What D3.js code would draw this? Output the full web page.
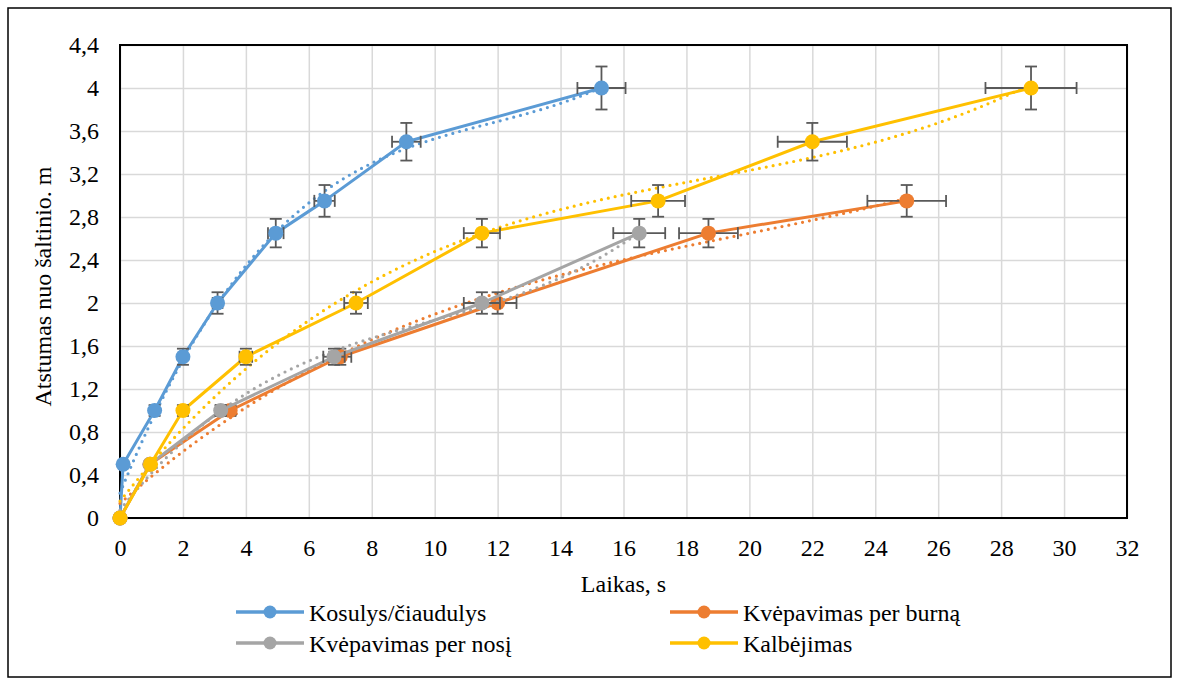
<!DOCTYPE html>
<html>
<head>
<meta charset="utf-8">
<script src="https://cdn.jsdelivr.net/npm/d3@7/dist/d3.min.js"></script>
<style>
  html, body { margin: 0; padding: 0; background: #fff; }
  svg { display: block; }
</style>
</head>
<body>
<svg id="chart" width="1178" height="685"></svg>
<script>
// Measurements: time (s) and distance from the source (m) for each activity
const coughTime   = [0, 0.1, 1.1, 2.0, 3.1, 4.95, 6.5, 9.1, 15.3];
const coughDist   = [0, 0.5, 1.0, 1.5, 2.0, 2.65, 2.95, 3.5, 4.0];

const mouthTime   = [0, 0.95, 3.5, 7.0, 12.0, 18.7, 25.0];
const mouthDist   = [0, 0.5, 1.0, 1.5, 2.0, 2.65, 2.95];

const noseTime    = [0, 0.95, 3.2, 6.8, 11.5, 16.5];
const noseDist    = [0, 0.5, 1.0, 1.5, 2.0, 2.65];

const speechTime  = [0, 0.97, 2.0, 4.0, 7.5, 11.5, 17.1, 22.0, 28.95];
const speechDist  = [0, 0.5, 1.0, 1.5, 2.0, 2.65, 2.95, 3.5, 4.0];

const seriesNames = ["Kosulys/čiaudulys", "Kvėpavimas per burną", "Kvėpavimas per nosį", "Kalbėjimas"];
const seriesColors = ["#5B9BD5", "#ED7D31", "#A5A5A5", "#FFC000"];

const xTicks = d3.range(0, 33, 2);
const yTicks = [0, 0.4, 0.8, 1.2, 1.6, 2, 2.4, 2.8, 3.2, 3.6, 4, 4.4];

const errorPct = 0.05;   // 5 % error bars on both axes
const trendOrder = 3;    // polynomial trendline order

const xTitle = "Laikas, s";
const yTitle = "Atstumas nuo šaltinio. m";

const FONT = "Liberation Serif";

const series = [
  { name: seriesNames[0], color: seriesColors[0], t: coughTime,  d: coughDist },
  { name: seriesNames[1], color: seriesColors[1], t: mouthTime,  d: mouthDist },
  { name: seriesNames[2], color: seriesColors[2], t: noseTime,   d: noseDist },
  { name: seriesNames[3], color: seriesColors[3], t: speechTime, d: speechDist }
];

// Least-squares polynomial fit, returns coefficients c0..cn
function polyFit(xs, ys, order) {
  const n = order + 1;
  const A = Array.from({ length: n }, () => new Array(n + 1).fill(0));
  for (let k = 0; k < xs.length; k++) {
    for (let i = 0; i < n; i++) {
      for (let j = 0; j < n; j++) A[i][j] += Math.pow(xs[k], i + j);
      A[i][n] += ys[k] * Math.pow(xs[k], i);
    }
  }
  for (let i = 0; i < n; i++) {
    let p = i;
    for (let r = i + 1; r < n; r++) if (Math.abs(A[r][i]) > Math.abs(A[p][i])) p = r;
    [A[i], A[p]] = [A[p], A[i]];
    for (let r = 0; r < n; r++) {
      if (r === i) continue;
      const f = A[r][i] / A[i][i];
      for (let c = i; c <= n; c++) A[r][c] -= f * A[i][c];
    }
  }
  return A.map((row, i) => row[n] / row[i]);
}
const polyEval = (c, x) => c.reduce((s, ci, i) => s + ci * Math.pow(x, i), 0);

const svg = d3.select("#chart");
const W = 1178, H = 685;

svg.append("rect").attr("x", 0).attr("y", 0).attr("width", W).attr("height", H).attr("fill", "#fff");
svg.append("rect").attr("x", 8).attr("y", 8).attr("width", 1163).attr("height", 669)
  .attr("fill", "none").attr("stroke", "#000").attr("stroke-width", 1.5);

const x = d3.scaleLinear().domain([0, 32]).range([120, 1127]);
const y = d3.scaleLinear().domain([0, 4.4]).range([518, 45]);

const fmt = v => d3.format("~g")(+v.toFixed(1)).replace(".", ",");

// Gridlines
svg.append("g").attr("transform", `translate(0,${y(0)})`)
  .call(d3.axisBottom(x).tickValues(xTicks).tickSize(-(y(0) - y(4.4))).tickFormat(""))
  .call(g => g.select(".domain").remove())
  .call(g => g.selectAll("line").attr("stroke", "#D9D9D9").attr("stroke-width", 1.5));
svg.append("g").attr("transform", `translate(${x(0)},0)`)
  .call(d3.axisLeft(y).tickValues(yTicks).tickSize(-(x(32) - x(0))).tickFormat(""))
  .call(g => g.select(".domain").remove())
  .call(g => g.selectAll("line").attr("stroke", "#D9D9D9").attr("stroke-width", 1.5));

// Plot frame
svg.append("rect").attr("x", x(0)).attr("y", y(4.4))
  .attr("width", x(32) - x(0)).attr("height", y(0) - y(4.4))
  .attr("fill", "none").attr("stroke", "#000").attr("stroke-width", 2);

// Tick labels
svg.append("g").attr("transform", `translate(0,${y(0)})`)
  .call(d3.axisBottom(x).tickValues(xTicks).tickSize(0).tickPadding(0).tickFormat(fmt))
  .call(g => g.select(".domain").remove())
  .call(g => g.selectAll("text").attr("font-size", 24).attr("dy", null).attr("y", 38)
    .attr("font-family", FONT).attr("fill", "#000"));
svg.append("g").attr("transform", `translate(${x(0)},0)`)
  .call(d3.axisLeft(y).tickValues(yTicks).tickSize(0).tickPadding(0).tickFormat(fmt))
  .call(g => g.select(".domain").remove())
  .call(g => g.selectAll("text").attr("font-size", 24).attr("x", -21).attr("dy", "0.33em")
    .attr("font-family", FONT).attr("fill", "#000"));

// Axis titles
svg.append("text").attr("x", (x(0) + x(32)) / 2).attr("y", 592)
  .attr("text-anchor", "middle").attr("font-size", 24).attr("font-family", FONT)
  .attr("fill", "#000").text(xTitle);
svg.append("text").attr("transform", `translate(51,${(y(0) + y(4.4)) / 2 + 5}) rotate(-90)`)
  .attr("text-anchor", "middle").attr("font-size", 24).attr("font-family", FONT)
  .attr("fill", "#000").text(yTitle);

const line = d3.line().x(p => x(p[0])).y(p => y(p[1]));
const plot = svg.append("g");

series.forEach(s => {
  const pts = s.t.map((t, i) => [t, s.d[i]]);
  const g = plot.append("g");

  // data line
  g.append("path").attr("d", line(pts)).attr("fill", "none")
    .attr("stroke", s.color).attr("stroke-width", 3).attr("stroke-linejoin", "round");

  // dotted polynomial trendline
  const c = polyFit(s.t, s.d, trendOrder);
  const tMax = d3.max(s.t);
  const trend = d3.range(0, 201).map(i => { const t = tMax * i / 200; return [t, polyEval(c, t)]; });
  g.append("path").attr("d", line(trend)).attr("fill", "none")
    .attr("stroke", s.color).attr("stroke-width", 3.2)
    .attr("stroke-linecap", "round").attr("stroke-dasharray", "0 7");

  // error bars
  const eb = g.append("g").attr("stroke", "#595959").attr("stroke-width", 1.8).attr("fill", "none");
  const cap = 6;
  pts.forEach(([t, d]) => {
    const dx = t * errorPct, dy = d * errorPct;
    if (dy > 0) {
      eb.append("line").attr("x1", x(t)).attr("x2", x(t)).attr("y1", y(d - dy)).attr("y2", y(d + dy));
      eb.append("line").attr("x1", x(t) - cap).attr("x2", x(t) + cap).attr("y1", y(d + dy)).attr("y2", y(d + dy));
      eb.append("line").attr("x1", x(t) - cap).attr("x2", x(t) + cap).attr("y1", y(d - dy)).attr("y2", y(d - dy));
    }
    if (dx > 0) {
      eb.append("line").attr("x1", x(t - dx)).attr("x2", x(t + dx)).attr("y1", y(d)).attr("y2", y(d));
      eb.append("line").attr("x1", x(t - dx)).attr("x2", x(t - dx)).attr("y1", y(d) - cap).attr("y2", y(d) + cap);
      eb.append("line").attr("x1", x(t + dx)).attr("x2", x(t + dx)).attr("y1", y(d) - cap).attr("y2", y(d) + cap);
    }
  });

  // markers
  g.selectAll("circle").data(pts).join("circle")
    .attr("cx", p => x(p[0])).attr("cy", p => y(p[1])).attr("r", 7.5)
    .attr("fill", s.color);
});

// Legend: two columns, row-major order
const legend = svg.append("g");
const legendPos = [[236, 612], [670, 612], [236, 643], [670, 643]];
series.forEach((s, i) => {
  const [lx, ly] = legendPos[i];
  const item = legend.append("g").attr("transform", `translate(${lx},${ly})`);
  item.append("line").attr("x1", 0).attr("x2", 68).attr("y1", 0).attr("y2", 0)
    .attr("stroke", s.color).attr("stroke-width", 3.5);
  item.append("circle").attr("cx", 34).attr("cy", 0).attr("r", 6.5).attr("fill", s.color);
  item.append("text").attr("x", 73).attr("y", 8.5).attr("font-size", 24)
    .attr("font-family", FONT).attr("fill", "#000").text(s.name);
});
</script>
</body>
</html>
